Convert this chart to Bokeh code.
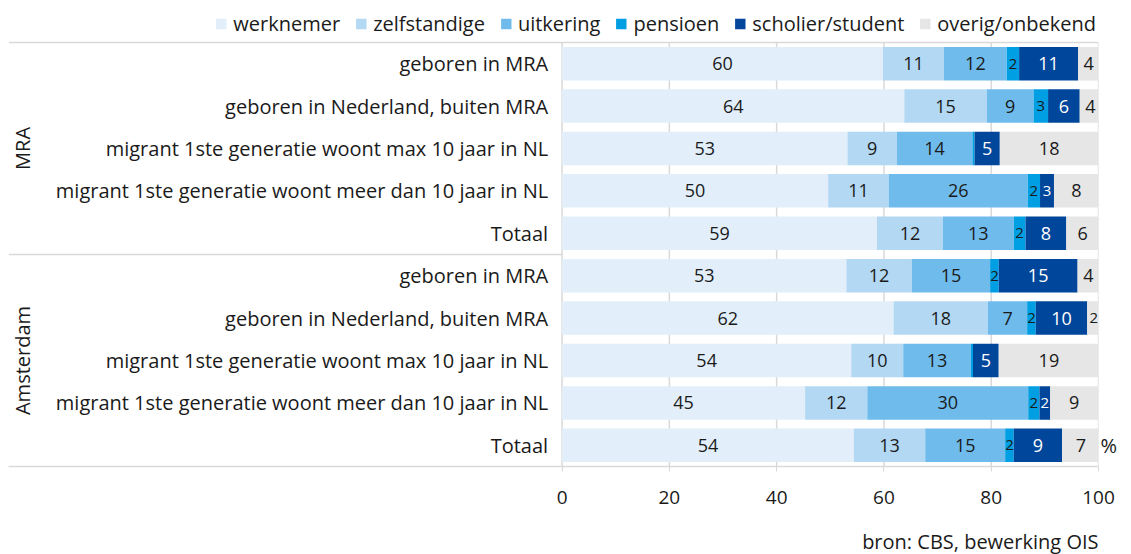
import numpy as np
from bokeh.plotting import figure
from bokeh.layouts import column
from bokeh.models import (ColumnDataSource, Range1d, FixedTicker, Legend, LegendItem,
                          LinearAxis)
from bokeh.core.properties import value
from bokeh.embed import file_html
from bokeh.resources import INLINE

# ---------------- data ----------------
groups = ["MRA", "Amsterdam"]
categories = [
    "geboren in MRA",
    "geboren in Nederland, buiten MRA",
    "migrant 1ste generatie woont max 10 jaar in NL",
    "migrant 1ste generatie woont meer dan 10 jaar in NL",
    "Totaal",
]
series = ["werknemer", "zelfstandige", "uitkering", "pensioen", "scholier/student", "overig/onbekend"]

werknemer = [59.8, 63.8, 53.2, 49.6, 58.7, 53.0, 61.8, 53.9, 45.3, 54.4]
zelfstandige = [11.4, 15.4, 9.2, 11.3, 12.3, 12.2, 17.6, 9.7, 11.6, 13.3]
uitkering = [11.7, 8.7, 14.1, 25.9, 13.2, 14.6, 7.3, 12.6, 30.0, 14.9]
pensioen = [2.3, 2.7, 0.4, 2.3, 2.2, 1.6, 1.6, 0.4, 2.1, 1.6]
scholier = [11.0, 5.9, 4.7, 2.6, 7.6, 14.7, 9.6, 4.8, 2.0, 9.0]
overig = [3.9, 4.0, 18.4, 8.4, 6.1, 4.0, 2.4, 18.7, 8.9, 7.0]

x_ticks = [0, 20, 40, 60, 80, 100]
source_note = "bron: CBS, bewerking OIS"
unit_label = "%"

# ---------------- style ----------------
colors = ["#E2EFFA", "#B3D8F3", "#6FBCEC", "#009EE2", "#00469A", "#E6E6E6"]
label_colors = ["#1a1a1a", "#1a1a1a", "#1a1a1a", "#1a1a1a", "#ffffff", "#1a1a1a"]
FONT = "Open Sans"
TXT = "#1a1a1a"
GRID = "#d9d9d9"
FS = "19px"
FS_CAT = "20px"
W = 1128

values = [werknemer, zelfstandige, uitkering, pensioen, scholier, overig]
n_rows = len(groups) * len(categories)
rows = list(range(n_rows))
row_labels = categories * len(groups)

data = {"y": rows}
keys = []
for i, s in enumerate(series):
    k = f"s{i}"
    keys.append(k)
    data[k] = values[i]
source = ColumnDataSource(data)

X_LEFT = -103.2
TOP = -1.30          # room for the legend inside the frame
p = figure(width=W, height=524, output_backend="svg", toolbar_location=None,
           x_range=Range1d(X_LEFT, 100), y_range=Range1d(n_rows - 0.5, TOP),
           y_axis_location=None, min_border_left=8, min_border_right=30,
           min_border_top=8, min_border_bottom=58)
p.outline_line_color = None
p.background_fill_color = "white"
p.xgrid.grid_line_color = None
p.ygrid.grid_line_color = None

# grid lines (only over the plotting rows)
p.segment(x0=x_ticks, y0=[-0.5] * len(x_ticks), x1=x_ticks, y1=[n_rows - 0.5] * len(x_ticks),
          line_color=GRID, line_width=1.5)

rends = p.hbar_stack(keys, y="y", height=0.79, color=colors, line_width=0, source=source)

# segment labels
lx, ly, lt, lc, ls = [], [], [], [], []
cum = np.zeros(n_rows)
for i, vals in enumerate(values):
    v = np.array(vals)
    for r in rows:
        if v[r] >= 1:
            lx.append(cum[r] + v[r] / 2)
            ly.append(r)
            lt.append(str(int(round(v[r]))))
            lc.append(label_colors[i])
            ls.append("15px" if v[r] < 3 else "18px")
    cum += v
p.text(x="x", y="y", text="t", text_color="c", text_font_size="fs",
       source=ColumnDataSource(dict(x=lx, y=ly, t=lt, c=lc, fs=ls)),
       text_align="center", text_baseline="middle", text_font=value(FONT))

# category labels
p.text(x=[-2.6] * n_rows, y=rows, text=row_labels, text_align="right",
       text_baseline="middle", text_font=value(FONT), text_font_size=FS_CAT,
       text_color=TXT)

# group labels
per = len(categories)
gy = [g * per + (per - 1) / 2 for g in range(len(groups))]
p.text(x=[X_LEFT + 2.7] * len(groups), y=gy, text=groups, angle=np.pi / 2,
       text_align="center", text_baseline="middle", text_font=value(FONT),
       text_font_size=FS_CAT, text_color=TXT)

# separators
p.segment(x0=[X_LEFT], y0=[-0.5], x1=[100], y1=[-0.5], line_color=GRID, line_width=1.5)
for g in range(1, len(groups)):
    p.segment(x0=[X_LEFT], y0=[g * per - 0.5], x1=[0], y1=[g * per - 0.5],
              line_color=GRID, line_width=1.5)

# x axis
p.xaxis.ticker = FixedTicker(ticks=x_ticks)
p.xaxis.axis_line_color = GRID
p.xaxis.axis_line_width = 1.5
p.xaxis.major_tick_line_color = GRID
p.xaxis.major_tick_out = 5
p.xaxis.major_tick_in = 0
p.xaxis.minor_tick_line_color = None
p.xaxis.major_label_standoff = 19
p.xaxis.major_label_text_font = FONT
p.xaxis.major_label_text_font_size = FS
p.xaxis.major_label_text_color = TXT

# "%" unit at the last row, via a right axis
ux = LinearAxis(ticker=FixedTicker(ticks=[n_rows - 1]),
                major_label_overrides={n_rows - 1: unit_label},
                axis_line_color=None, major_tick_line_color=None, major_tick_out=0,
                major_tick_in=0, minor_tick_line_color=None, major_label_standoff=2,
                major_label_text_font=FONT, major_label_text_font_size=FS_CAT,
                major_label_text_color=TXT, major_label_orientation="horizontal")
p.add_layout(ux, "right")

# legend
legend = Legend(items=[LegendItem(label=s, renderers=[r]) for s, r in zip(series, rends)],
                orientation="horizontal", location="top_right")
legend.label_text_font = FONT
legend.label_text_font_size = FS_CAT
legend.label_text_color = TXT
legend.glyph_width = 13
legend.glyph_height = 13
legend.label_standoff = 6
legend.spacing = 14
legend.padding = 0
legend.margin = 2
legend.border_line_color = None
legend.background_fill_alpha = 0
p.add_layout(legend)

# source note strip
q = figure(width=W, height=30, output_backend="svg", toolbar_location=None,
           x_range=Range1d(0, 1), y_range=Range1d(0, 1), x_axis_location=None,
           y_axis_location=None, min_border_left=0, min_border_right=0,
           min_border_top=0, min_border_bottom=0)
q.outline_line_color = None
q.xgrid.grid_line_color = None
q.ygrid.grid_line_color = None
q.text(x=[1], y=[0.45], text=[source_note], text_align="right", text_baseline="middle",
       text_font=value(FONT), text_font_size=FS_CAT, text_color=TXT)

layout = column(p, q, spacing=0)
open("out.html", "w").write(file_html(layout, INLINE))
